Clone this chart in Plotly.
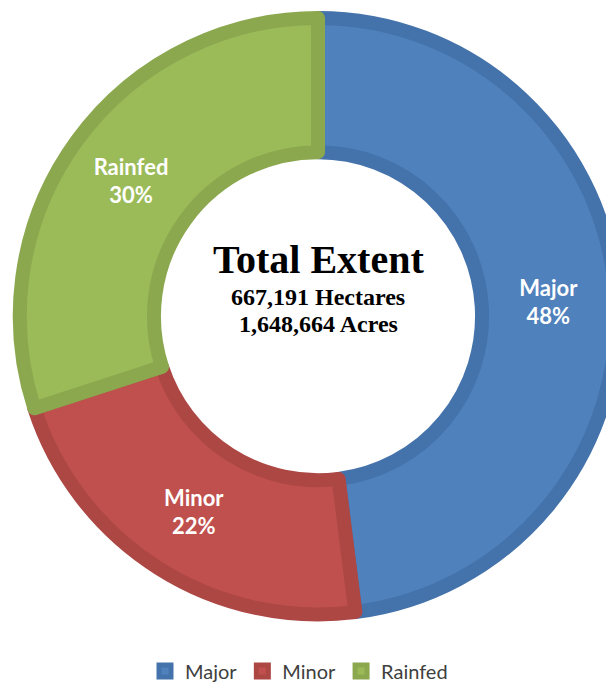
import plotly.graph_objects as go

categories = ["Major", "Minor", "Rainfed"]
shares = [48, 22, 30]
fill_colors = ["#4F81BD", "#C0504D", "#9BBB59"]
edge_colors = ["#4472AA", "#AD4744", "#8BA84F"]
center_title = "Total Extent"
center_lines = ["667,191 Hectares", "1,648,664 Acres"]

W, H = 614, 683
cx, cy, R = 310, 310, 300
stroke = 14

fig = go.Figure(go.Pie(
    labels=categories,
    values=shares,
    sort=False,
    direction="clockwise",
    rotation=0,
    hole=0.55,
    marker=dict(colors=fill_colors, line=dict(color=edge_colors, width=stroke)),
    texttemplate="<b>%{label}<br>%{percent:.0%}</b>",
    textposition="inside",
    insidetextorientation="horizontal",
    textfont=dict(family="Lato", size=22, color="white"),
    domain=dict(x=[(cx - R) / W, min(1.0, (cx + R) / W)], y=[(H - cy - R) / H, (H - cy + R) / H]),
    hoverinfo="label+percent",
))

fig.add_annotation(x=cx / W, y=1 - 253 / H, xref="paper", yref="paper", text="<b>" + center_title + "</b>",
                   showarrow=False, font=dict(family="Liberation Serif", size=40, color="black"), yanchor="middle")
fig.add_annotation(x=cx / W, y=1 - 291 / H, xref="paper", yref="paper", text="<b>" + center_lines[0] + "</b>",
                   showarrow=False, font=dict(family="Liberation Serif", size=24, color="black"), yanchor="middle")
fig.add_annotation(x=cx / W, y=1 - 318 / H, xref="paper", yref="paper", text="<b>" + center_lines[1] + "</b>",
                   showarrow=False, font=dict(family="Liberation Serif", size=24, color="black"), yanchor="middle")

fig.update_layout(
    width=W, height=H,
    margin=dict(l=0, r=0, t=0, b=0),
    paper_bgcolor="white", plot_bgcolor="white",
    showlegend=True,
    legend=dict(orientation="h", x=0.5 - 16 / W, xanchor="center", y=1 - 667 / H, yanchor="middle",
                font=dict(family="Lato", size=20, color="#404040"), itemwidth=30),
)

fig.write_html("out.html")
